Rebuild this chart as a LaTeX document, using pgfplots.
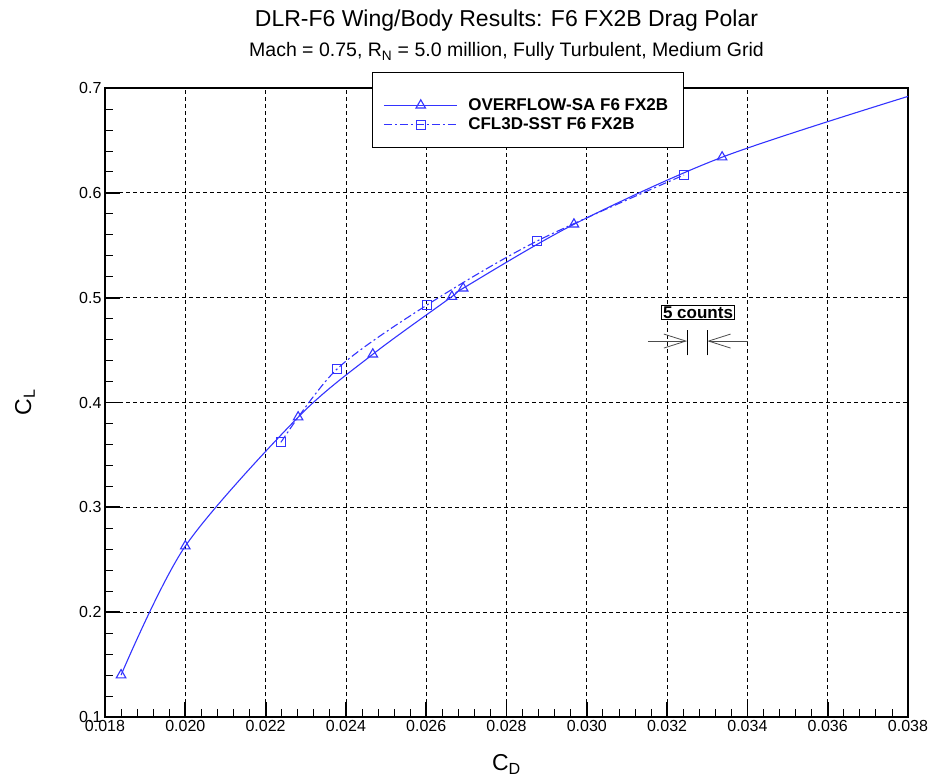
\documentclass[border=0pt]{standalone}
\usepackage{fontspec}
\setmainfont{Liberation Sans}
\usepackage{pgfplots}
\pgfplotsset{compat=1.18}
\usetikzlibrary{arrows.meta}
\definecolor{curveblue}{RGB}{51,51,255}

\begin{document}
\begin{tikzpicture}
\path[use as bounding box] (0pt,0pt) rectangle (933pt,782pt);
\begin{axis}[
  at={(105pt,65pt)}, anchor=south west,
  width=803pt, height=629pt, scale only axis,
  xmin=0.018, xmax=0.038, ymin=0.1, ymax=0.7,
  xtick={0.018,0.020,0.022,0.024,0.026,0.028,0.030,0.032,0.034,0.036,0.038},
  ytick={0.1,0.2,0.3,0.4,0.5,0.6,0.7},
  minor x tick num=4, minor y tick num=4,
  scaled x ticks=false, scaled y ticks=false,
  xticklabel style={/pgf/number format/.cd, fixed, fixed zerofill, precision=3, assume math mode=true},
  yticklabel style={/pgf/number format/.cd, fixed, fixed zerofill, precision=1, assume math mode=true},
  tick label style={font=\fontsize{16}{18}\selectfont},
  tick pos=left, tick align=inside,
  major tick length=15pt, minor tick length=8pt,
  major tick style={line width=1.8pt, black},
  minor tick style={line width=0.8pt, black},
  axis line style={line width=2.6pt},
  grid=major,
  major grid style={black, line width=0.7pt, dash pattern=on 4pt off 3pt},
  xlabel={C\textsubscript{D}},
  ylabel={C\textsubscript{L}},
  label style={font=\fontsize{23}{26}\selectfont},
  xlabel style={at={(axis description cs:0.5,-0.075)}, anchor=center},
  ylabel style={at={(axis description cs:-0.0996,0.5008)}, anchor=center},
  legend cell align=left,
  legend image code/.code={
    \draw[#1] (0pt,0pt) -- (73pt,0pt);
    \draw[#1, solid] plot coordinates {(37pt,0pt)};
  },
  legend style={at={(0.3462,0.9571)}, anchor=west, draw=none, fill=none,
    font=\bfseries\fontsize{17}{19}\selectfont,
    inner xsep=0pt, inner ysep=0pt, row sep=2pt,
    /tikz/every odd column/.append style={column sep=9pt}},
  clip=false,
]
% legend frame (drawn over the top axis line, like the original)
\draw[black, line width=0.8pt, fill=white]
  (rel axis cs:0.3325,0.9062) rectangle (rel axis cs:0.7198,1.0254);

\addplot[curveblue, line width=1.1pt, smooth, tension=0.5,
  mark=triangle, mark size=5.5pt, mark indices={1,2,3,4,5,6,7,8},
  mark options={solid, fill=white, line width=1.1pt}] coordinates {
  (0.01840,0.140) (0.02000,0.263) (0.02281,0.386) (0.02467,0.446)
  (0.02664,0.501) (0.02692,0.509) (0.02968,0.570) (0.03337,0.634)
  (0.03800,0.692)
};
\addlegendentry{OVERFLOW-SA F6 FX2B}
\addplot[curveblue, line width=1.1pt, smooth, tension=0.5,
  dash pattern=on 8pt off 3pt on 2pt off 3pt,
  mark=square, mark size=4.5pt,
  mark options={solid, fill=white, line width=1.1pt}] coordinates {
  (0.02238,0.362) (0.02378,0.432) (0.02602,0.493) (0.02876,0.554)
  (0.03242,0.617)
};
\addlegendentry{CFL3D-SST F6 FX2B}

% 5 counts annotation
\node[draw=black, line width=0.8pt, fill=white, inner sep=1.5pt, font=\bfseries\fontsize{17}{19}\selectfont]
  at (axis cs:0.03277,0.486) {5 counts};
\draw[black, line width=0.8pt] (axis cs:0.0325,0.445) -- (axis cs:0.0325,0.469);
\draw[black, line width=0.8pt] (axis cs:0.0330,0.445) -- (axis cs:0.0330,0.469);
\draw[black!70, line width=0.8pt, -{Straight Barb[length=22pt, width=14pt]}]
  (axis cs:0.03152,0.4586) -- (axis cs:0.0325,0.4586);
\draw[black!70, line width=0.8pt, -{Straight Barb[length=22pt, width=14pt]}]
  (axis cs:0.03401,0.4586) -- (axis cs:0.0330,0.4586);

% titles
\node[anchor=base, font=\fontsize{23}{26}\selectfont] at (axis description cs:0.5,1.097)
  {DLR-F6 Wing/Body Results: F6 FX2B Drag Polar};
\node[anchor=base, font=\fontsize{19.5}{22}\selectfont] at (axis description cs:0.5,1.0493)
  {Mach = 0.75, R\textsubscript{N} = 5.0 million, Fully Turbulent, Medium Grid};
\end{axis}
\end{tikzpicture}
\end{document}
